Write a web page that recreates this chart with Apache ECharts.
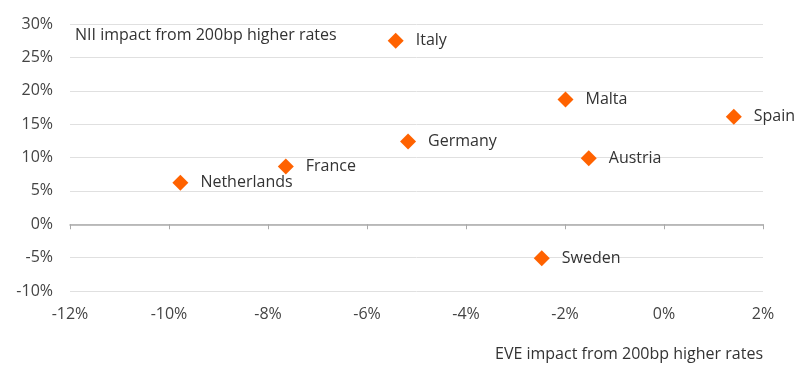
<!DOCTYPE html>
<html>
<head>
<meta charset="utf-8">
<script src="https://cdn.jsdelivr.net/npm/echarts@6/dist/echarts.min.js"></script>
<style>html,body{margin:0;padding:0;background:#fff}#c{width:800px;height:368px}</style>
</head>
<body>
<div id="c"></div>
<script>
const countries = ['Italy','Malta','Spain','Germany','Austria','France','Netherlands','Sweden'];
const eveImpact = [-5.42, -1.99, 1.41, -5.17, -1.52, -7.64, -9.77, -2.47];
const niiImpact = [27.5, 18.7, 16.1, 12.4, 9.9, 8.65, 6.2, -5.1];
const xTicks = [-12, -10, -8, -6, -4, -2, 0, 2];
const yTicks = [-10, -5, 0, 5, 10, 15, 20, 25, 30];
const yTitle = 'NII impact from 200bp higher rates';
const xTitle = 'EVE impact from 200bp higher rates';

const font = '"Open Sans", "Noto Sans", sans-serif';
const data = countries.map((c, i) => ({ value: [eveImpact[i], niiImpact[i]], name: c }));

const chart = echarts.init(document.getElementById('c'));
chart.setOption({
  animation: false,
  grid: { left: 70, right: 37, top: 24, bottom: 77 },
  xAxis: [
    {
      type: 'value', min: xTicks[0], max: xTicks[xTicks.length - 1], interval: 2,
      position: 'bottom',
      axisLine: { show: false, onZero: false },
      axisTick: { show: false },
      splitLine: { show: false },
      axisLabel: { formatter: v => v + '%', color: '#444', fontSize: 16, fontFamily: font, margin: 15 }
    },
    {
      type: 'value', min: xTicks[0], max: xTicks[xTicks.length - 1], interval: 2,
      position: 'bottom',
      axisLine: { show: true, onZero: true, lineStyle: { color: '#aaa', width: 1.5 } },
      axisTick: { show: true, length: 5, lineStyle: { color: '#aaa' } },
      splitLine: { show: false },
      axisLabel: { show: false }
    }
  ],
  yAxis: {
    type: 'value', min: yTicks[0], max: yTicks[yTicks.length - 1], interval: 5,
    axisLine: { show: false },
    axisTick: { show: false },
    splitLine: { show: true, lineStyle: { color: '#e0e0e0', width: 1 } },
    axisLabel: { formatter: v => v + '%', color: '#444', fontSize: 16, fontFamily: font, margin: 17 }
  },
  graphic: [
    { type: 'text', left: 75, top: 27, style: { text: yTitle, fill: '#333', fontSize: 16, fontFamily: font } },
    { type: 'text', right: 37, top: 346, style: { text: xTitle, fill: '#333', fontSize: 16, fontFamily: font } }
  ],
  series: [{
    type: 'scatter',
    xAxisIndex: 0,
    symbol: 'diamond',
    symbolSize: 16,
    itemStyle: { color: '#FF6200', opacity: 1 },
    label: {
      show: true, position: 'right', distance: 12,
      formatter: p => p.name, color: '#333', fontSize: 16, fontFamily: font
    },
    data: data
  }]
});
</script>
</body>
</html>
